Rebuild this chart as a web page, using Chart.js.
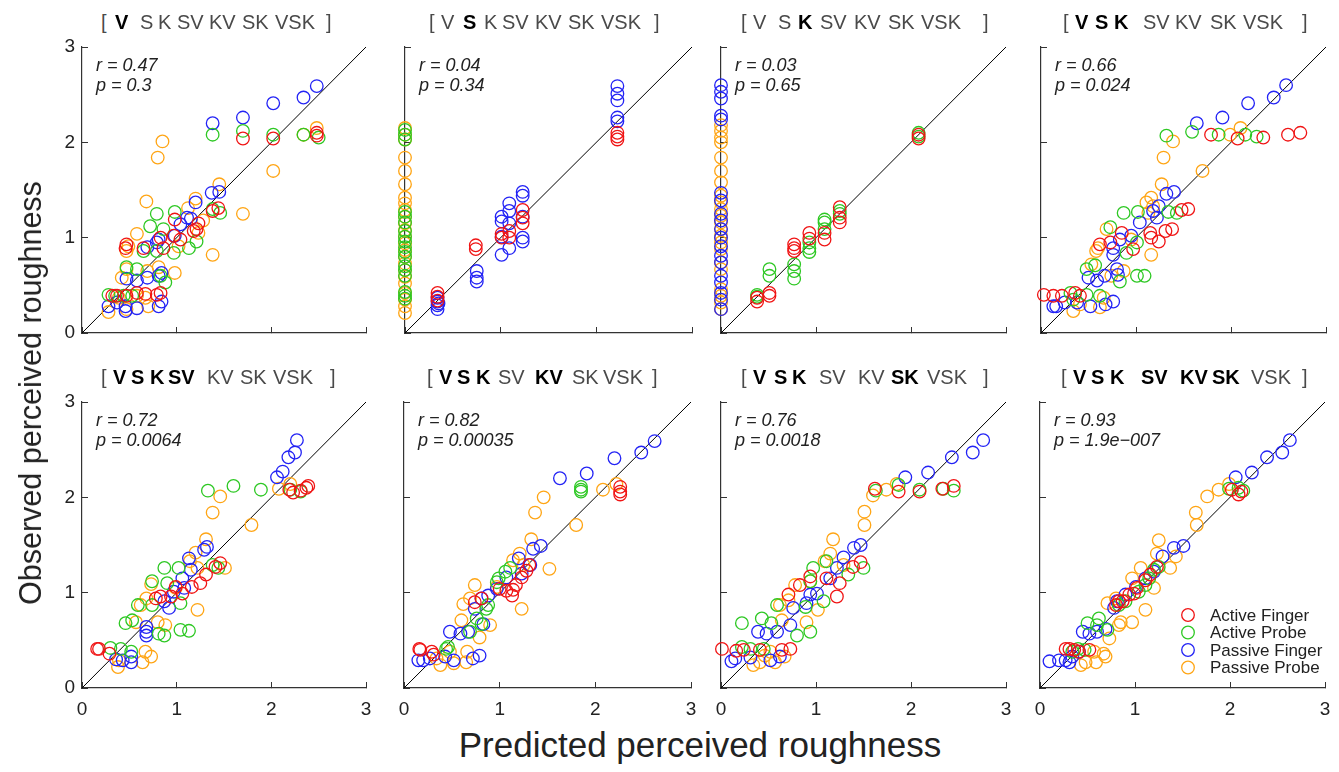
<!DOCTYPE html>
<html>
<head>
<meta charset="utf-8">
<script src="https://cdn.jsdelivr.net/npm/chart.js@4/dist/chart.umd.min.js"></script>
<style>
  body { margin: 0; background: #fff; }
  #fig { position: relative; width: 1339px; height: 772px; overflow: hidden;
         font-family: "Liberation Sans", Arial, sans-serif; color: #222; }
  .panel { position: absolute; }
  .tok { position: absolute; font-size: 20px; line-height: 20px; color: #4a4a4a; white-space: pre; }
  .tok.b { font-weight: bold; color: #000; }
  .stat { position: absolute; font-size: 18px; line-height: 20px; font-style: italic; color: #222; white-space: pre; }
  .axt { position: absolute; font-size: 30px; line-height: 30px; color: #222; white-space: nowrap; }
</style>
</head>
<body>
<div id="fig"></div>
<script>
const seriesLabels = ['Active Finger', 'Active Probe', 'Passive Finger', 'Passive Probe'];
const seriesColors = ['rgb(240,20,20)', 'rgb(45,200,35)', 'rgb(35,35,245)', 'rgb(255,165,20)'];
const tickValues = [0, 1, 2, 3];
const unityLine = [0, 3];

const rValues = ['0.47', '0.04', '0.03', '0.66', '0.72', '0.82', '0.76', '0.93'];
const pValues = ['0.3', '0.34', '0.65', '0.024', '0.0064', '0.00035', '0.0018', '1.9e\u2212007'];

// which model terms are in bold in each panel title
const titleTerms = ['V', 'S', 'K', 'SV', 'KV', 'SK', 'VSK'];
const boldTerms = [
  ['V'], ['S'], ['K'], ['V', 'S', 'K'],
  ['V', 'S', 'K', 'SV'], ['V', 'S', 'K', 'KV'], ['V', 'S', 'K', 'SK'], ['V', 'S', 'K', 'SV', 'KV', 'SK']
];

// [predicted, observed]
const p1_af = [[2.48,2.10],[2.48,2.07],[2.02,2.04],[1.70,2.04],[1.44,1.31],[1.38,1.28],[1.23,1.15],[1.21,1.09],[1.18,1.07],[0.98,1.19],[0.97,1.02],[1.04,0.98],[0.83,1.00],[0.86,0.89],[0.65,0.89],[0.47,0.93],[0.46,0.89],[0.83,0.42],[0.79,0.40],[0.67,0.41],[0.58,0.42],[0.47,0.39],[0.37,0.39],[0.32,0.39]];
const p1_ap = [[1.38,2.08],[1.70,2.12],[2.02,2.08],[2.34,2.08],[2.50,2.05],[1.46,1.26],[1.38,1.30],[1.21,0.96],[1.13,0.89],[0.98,1.27],[0.97,0.84],[0.79,1.25],[0.72,1.12],[0.86,1.09],[0.79,0.86],[0.65,0.86],[0.47,0.69],[0.58,0.67],[0.83,0.60],[0.88,0.53],[0.28,0.40],[0.35,0.39],[0.44,0.39],[0.53,0.39]];
const p1_pf = [[2.48,2.59],[2.34,2.47],[2.02,2.41],[1.70,2.26],[1.38,2.20],[1.45,1.48],[1.37,1.47],[1.20,1.37],[1.15,1.20],[1.11,1.21],[1.04,1.14],[0.98,1.02],[0.81,0.98],[0.69,0.90],[0.79,0.95],[0.84,0.63],[0.81,0.60],[0.47,0.57],[0.58,0.55],[0.69,0.58],[0.28,0.28],[0.46,0.28],[0.58,0.26],[0.81,0.28],[0.84,0.33],[0.46,0.23],[0.37,0.32]];
const p1_pp = [[0.85,2.01],[0.80,1.84],[0.68,1.38],[2.02,1.70],[2.34,2.08],[2.48,2.15],[1.70,1.25],[1.45,1.56],[1.20,1.41],[1.12,1.31],[1.28,1.18],[1.23,1.05],[1.38,0.82],[0.98,0.63],[1.02,0.91],[0.58,1.04],[0.49,0.91],[0.47,0.86],[0.42,0.58],[0.47,0.67],[0.81,0.69],[0.69,0.65],[0.28,0.22],[0.47,0.25],[0.70,0.28],[0.58,0.39],[0.39,0.37],[0.67,0.37]];

const p2_af = [[2.22,2.10],[2.22,2.06],[2.22,2.03],[1.23,1.29],[1.23,1.21],[1.23,1.15],[1.09,1.07],[1.09,1.00],[1.01,1.04],[1.01,1.00],[0.74,0.92],[0.74,0.88],[0.34,0.42],[0.34,0.38],[0.34,0.34]];
const p2_ap = [[0,2.13],[0,2.08],[0,2.03],[0,1.27],[0,1.22],[0,1.16],[0,1.07],[0,1.01],[0,0.96],[0,0.90],[0,0.85],[0,0.80],[0,0.70],[0,0.66],[0,0.60],[0,0.43],[0,0.39],[0,0.36]];
const p2_pf = [[2.22,2.59],[2.22,2.51],[2.22,2.44],[2.22,2.26],[2.22,2.22],[1.23,1.48],[1.23,1.44],[1.09,1.36],[1.09,1.28],[1.01,1.22],[1.01,1.17],[1.09,1.15],[1.23,1.22],[1.23,1.00],[1.23,0.96],[1.01,1.01],[1.09,0.89],[1.01,0.82],[0.75,0.65],[0.75,0.58],[0.75,0.54],[0.34,0.33],[0.34,0.29],[0.34,0.25],[0.34,0.37],[0.35,0.31]];
const p2_pp = [[0,2.15],[0,2.08],[0,2.03],[0,1.84],[0,1.70],[0,1.56],[0,1.42],[0,1.36],[0,1.29],[0,1.22],[0,1.15],[0,1.08],[0,1.01],[0,0.94],[0,0.87],[0,0.80],[0,0.73],[0,0.66],[0,0.59],[0,0.52],[0,0.42],[0,0.35],[0,0.28],[0,0.21]];

const p3_af = [[2.08,2.08],[2.08,2.04],[1.25,1.32],[1.25,1.21],[1.25,1.16],[1.09,1.05],[1.09,0.98],[0.93,1.05],[0.93,0.99],[0.77,0.93],[0.77,0.89],[0.77,0.86],[0.51,0.42],[0.51,0.39],[0.38,0.37],[0.38,0.33]];
const p3_ap = [[2.08,2.10],[2.08,2.06],[1.25,1.28],[1.25,1.25],[1.09,1.19],[1.09,1.16],[1.09,1.09],[0.93,0.95],[0.93,0.89],[0.93,0.85],[0.77,0.72],[0.77,0.65],[0.77,0.57],[0.51,0.67],[0.51,0.60],[0.38,0.40],[0.38,0.38]];
const p3_pf = [[0,2.60],[0,2.53],[0,2.46],[0,2.28],[0,2.24],[0,1.47],[0,1.39],[0,1.25],[0,1.18],[0,1.09],[0,1.00],[0,0.91],[0,0.81],[0,0.74],[0,0.60],[0,0.53],[0,0.42],[0,0.35],[0,0.25]];
const p3_pp = [[0,2.18],[0,2.12],[0,2.05],[0,2.00],[0,1.84],[0,1.70],[0,1.58],[0,1.44],[0,1.37],[0,1.30],[0,1.23],[0,1.16],[0,1.09],[0,1.02],[0,0.95],[0,0.88],[0,0.74],[0,0.67],[0,0.46],[0,0.39],[0,0.32],[0,0.25]];

const p4_af = [[2.73,2.10],[2.60,2.08],[2.34,2.05],[2.07,2.04],[1.79,2.08],[1.55,1.30],[1.48,1.29],[1.38,1.09],[1.31,1.07],[1.24,0.96],[1.16,1.00],[1.15,1.05],[0.97,0.88],[0.85,1.05],[0.73,0.95],[0.62,0.93],[0.03,0.40],[0.13,0.39],[0.22,0.39],[0.36,0.42],[0.41,0.39]];
const p4_ap = [[1.32,2.07],[1.59,2.11],[1.87,2.08],[2.15,2.08],[2.27,2.06],[1.43,1.26],[1.34,1.27],[1.02,1.27],[0.87,1.26],[0.73,1.11],[1.01,0.95],[0.90,0.84],[0.57,0.71],[0.48,0.67],[1.01,0.60],[1.09,0.60],[0.83,0.54],[0.31,0.42],[0.48,0.40],[0.62,0.39],[0.34,0.35]];
const p4_pf = [[2.58,2.60],[2.45,2.47],[2.18,2.41],[1.91,2.26],[1.64,2.20],[1.40,1.48],[1.32,1.46],[1.24,1.33],[1.18,1.28],[1.22,1.21],[1.04,1.16],[0.95,1.02],[0.83,0.98],[0.76,0.89],[0.76,0.82],[0.80,0.67],[0.81,0.61],[0.59,0.55],[0.50,0.58],[0.67,0.60],[0.76,0.33],[0.68,0.30],[0.52,0.28],[0.16,0.28],[0.13,0.28],[0.25,0.32],[0.38,0.32]];
const p4_pp = [[1.39,2.01],[1.29,1.84],[1.70,1.70],[1.99,2.08],[2.10,2.15],[1.27,1.56],[1.16,1.42],[1.11,1.37],[1.18,1.33],[1.13,1.26],[1.16,0.82],[0.95,0.98],[0.69,1.09],[0.60,0.89],[0.58,0.86],[0.87,0.65],[0.53,0.72],[0.62,0.27],[0.34,0.23],[0.41,0.30],[0.66,0.37],[0.74,0.60]];

const p5_af = [[2.39,2.12],[2.37,2.10],[2.31,2.07],[2.23,2.05],[2.19,2.08],[1.46,1.31],[1.41,1.27],[1.31,1.19],[1.25,1.10],[1.16,1.06],[1.06,0.99],[0.99,1.06],[0.94,0.96],[0.83,0.96],[0.78,0.94],[0.16,0.41],[0.18,0.41],[0.29,0.36]];
const p5_ap = [[1.33,2.07],[1.60,2.12],[1.89,2.08],[2.20,2.08],[2.31,2.06],[1.44,1.26],[1.38,1.29],[1.02,1.26],[0.87,1.26],[0.74,1.12],[0.90,1.10],[1.04,0.89],[0.59,0.87],[0.74,0.87],[0.53,0.71],[0.46,0.68],[1.04,0.61],[1.13,0.60],[0.87,0.55],[0.81,0.57],[0.30,0.42],[0.41,0.41],[0.52,0.38]];
const p5_pf = [[2.27,2.60],[2.25,2.47],[2.18,2.42],[2.12,2.27],[2.06,2.21],[1.32,1.48],[1.29,1.45],[1.13,1.36],[1.15,1.24],[1.06,1.15],[1.08,1.05],[0.97,1.01],[0.92,0.84],[0.87,0.91],[0.68,0.64],[0.68,0.59],[0.68,0.55],[0.52,0.33],[0.52,0.27],[0.36,0.30],[0.43,0.29]];
const p5_pp = [[1.46,2.01],[1.38,1.84],[1.79,1.71],[2.08,2.09],[2.20,2.14],[1.31,1.56],[1.20,1.42],[1.14,1.33],[1.22,1.26],[1.51,1.26],[1.22,0.82],[0.99,1.05],[0.73,1.09],[0.62,0.87],[0.68,0.94],[0.88,0.66],[0.57,0.69],[0.80,0.69],[0.38,0.22],[0.64,0.27],[0.73,0.33],[0.67,0.38],[0.39,0.29]];

const p6_af = [[2.26,2.11],[2.26,2.06],[2.26,2.03],[1.31,1.29],[1.28,1.23],[1.23,1.16],[1.17,1.08],[1.14,1.03],[1.13,0.97],[1.07,1.02],[1.00,1.04],[0.81,0.94],[0.74,0.90],[0.16,0.41],[0.17,0.40],[0.29,0.38],[0.31,0.35]];
const p6_ap = [[1.85,2.11],[1.85,2.08],[1.85,2.06],[1.11,1.26],[1.06,1.22],[0.99,1.15],[0.97,1.11],[0.88,0.87],[0.86,0.83],[0.76,0.73],[0.81,0.67],[0.69,0.59],[0.46,0.43],[0.44,0.41]];
const p6_pf = [[2.62,2.59],[2.48,2.47],[2.20,2.41],[1.91,2.25],[1.63,2.20],[1.43,1.49],[1.35,1.46],[1.20,1.36],[1.32,1.29],[1.23,1.20],[1.07,1.16],[0.97,1.04],[0.88,0.97],[0.81,0.94],[0.74,0.83],[0.83,0.67],[0.67,0.59],[0.48,0.59],[0.59,0.57],[0.79,0.34],[0.72,0.31],[0.52,0.29],[0.15,0.29],[0.20,0.29],[0.27,0.31],[0.43,0.33]];
const p6_pp = [[1.46,2.00],[1.37,1.84],[1.80,1.71],[2.08,2.08],[2.22,2.14],[1.33,1.56],[1.21,1.41],[1.14,1.34],[1.25,1.29],[1.52,1.25],[1.23,0.83],[0.97,1.06],[0.74,1.08],[0.69,0.94],[0.62,0.88],[0.90,0.66],[0.60,0.71],[0.79,0.53],[0.38,0.24],[0.65,0.27],[0.66,0.38],[0.48,0.38],[0.34,0.31],[0.52,0.26]];

const p7_af = [[2.45,2.12],[2.33,2.09],[2.09,2.06],[1.87,2.06],[1.62,2.09],[1.47,1.32],[1.39,1.27],[1.25,1.10],[1.22,0.96],[1.11,1.15],[0.94,1.17],[0.83,1.08],[0.71,0.98],[0.73,0.41],[0.64,0.40],[0.41,0.40],[0.24,0.40],[0.16,0.39],[0.01,0.41]];
const p7_ap = [[1.63,2.07],[1.87,2.13],[2.09,2.08],[2.34,2.09],[2.45,2.07],[1.50,1.26],[1.34,1.19],[1.11,1.33],[0.97,1.26],[0.94,1.12],[1.08,0.91],[0.89,0.85],[0.59,0.87],[0.43,0.73],[0.22,0.68],[0.53,0.68],[0.94,0.59],[0.80,0.55],[0.22,0.43],[0.31,0.41],[0.45,0.41]];
const p7_pf = [[2.76,2.60],[2.65,2.47],[2.43,2.42],[2.18,2.26],[1.94,2.21],[1.47,1.50],[1.40,1.47],[1.29,1.37],[1.22,1.26],[1.15,1.15],[1.01,0.99],[0.94,0.98],[0.90,0.89],[0.76,0.84],[0.73,0.66],[0.59,0.59],[0.39,0.59],[0.48,0.57],[0.62,0.33],[0.52,0.29],[0.31,0.32],[0.11,0.28],[0.15,0.31]];
const p7_pp = [[1.60,2.02],[1.51,1.85],[1.51,1.71],[1.74,2.08],[1.85,2.14],[1.18,1.56],[1.15,1.41],[1.09,1.33],[1.29,1.29],[0.94,1.12],[1.02,0.82],[0.78,1.08],[0.71,0.92],[0.62,0.87],[0.90,0.69],[0.64,0.71],[0.41,0.27],[0.57,0.27],[0.67,0.33],[0.52,0.38],[0.34,0.24],[0.46,0.34]];

const p8_af = [[2.09,2.03],[2.12,2.06],[2.02,2.08],[1.23,1.27],[1.16,1.19],[1.11,1.13],[1.02,1.05],[0.99,0.99],[0.94,0.98],[0.87,0.91],[0.83,0.91],[0.80,0.87],[0.27,0.41],[0.31,0.41],[0.36,0.40],[0.41,0.38],[0.52,0.40]];
const p8_ap = [[2.14,2.07],[2.09,2.10],[1.99,2.09],[1.25,1.27],[1.20,1.24],[1.15,1.15],[1.11,1.08],[1.04,1.01],[0.90,0.91],[0.83,0.87],[0.71,0.61],[0.62,0.73],[0.50,0.68],[0.60,0.66],[0.40,0.41],[0.34,0.38],[0.47,0.40]];
const p8_pf = [[2.63,2.60],[2.55,2.47],[2.39,2.42],[2.23,2.26],[2.06,2.21],[1.51,1.49],[1.41,1.47],[1.29,1.38],[1.20,1.22],[1.11,1.15],[1.01,1.06],[0.90,0.98],[0.81,0.91],[0.78,0.84],[0.69,0.62],[0.60,0.59],[0.52,0.57],[0.45,0.59],[0.41,0.38],[0.34,0.33],[0.27,0.29],[0.10,0.28],[0.20,0.29],[0.31,0.27]];
const p8_pp = [[1.64,1.84],[1.65,1.71],[1.76,2.01],[1.88,2.08],[1.99,2.14],[1.25,1.55],[1.43,1.38],[1.23,1.41],[1.06,1.26],[1.37,1.26],[1.20,1.05],[1.11,0.82],[0.97,1.15],[0.80,0.94],[0.71,0.89],[0.97,0.69],[0.85,0.69],[0.83,0.66],[0.73,0.52],[0.67,0.36],[0.69,0.33],[0.59,0.27],[0.43,0.24],[0.48,0.27],[0.57,0.38]];

const panelSeries = [
  [p1_af, p1_ap, p1_pf, p1_pp], [p2_af, p2_ap, p2_pf, p2_pp],
  [p3_af, p3_ap, p3_pf, p3_pp], [p4_af, p4_ap, p4_pf, p4_pp],
  [p5_af, p5_ap, p5_pf, p5_pp], [p6_af, p6_ap, p6_pf, p6_pp],
  [p7_af, p7_ap, p7_pf, p7_pp], [p8_af, p8_ap, p8_pf, p8_pp]
];

// ---- layout (plot boxes in page pixels) ----
const boxes = [
  {l: 82, t: 47, r: 366, b: 333}, {l: 405, t: 47, r: 692, b: 333},
  {l: 721, t: 47, r: 1006, b: 333}, {l: 1041, t: 47, r: 1326, b: 333},
  {l: 82, t: 402, r: 366, b: 688}, {l: 404, t: 402, r: 691, b: 688},
  {l: 721, t: 402, r: 1006, b: 688}, {l: 1040, t: 402, r: 1325, b: 688}
];
// x position of each title token: '[', seven terms, ']'
const titleX = [
  [101, 115, 140, 158, 177, 209, 242, 275, 326],
  [429, 441, 463, 484, 502, 535, 568, 601, 654],
  [741, 753, 778, 798, 820, 854, 888, 921, 983],
  [1063, 1075, 1095, 1114, 1143, 1175, 1210, 1243, 1302],
  [101, 113, 131, 150, 168, 207, 240, 273, 330],
  [427, 439, 457, 476, 498, 535, 572, 603, 652],
  [741, 753, 774, 792, 819, 858, 891, 927, 983],
  [1061, 1073, 1091, 1110, 1141, 1180, 1212, 1251, 1302]
];
const AX_W = 40, AX_H = 34, PAD_T = 12, PAD_R = 14;
const FONT = '"Liberation Sans", Arial, sans-serif';
const fig = document.getElementById('fig');

function addText(cls, txt, left, top) {
  const d = document.createElement('div');
  d.className = cls;
  d.textContent = txt;
  d.style.left = left + 'px';
  d.style.top = top + 'px';
  fig.appendChild(d);
  return d;
}

const insideLegend = {
  id: 'insideLegend',
  afterDatasetsDraw(chart) {
    const {ctx, chartArea} = chart;
    ctx.save();
    ctx.font = '17px ' + FONT;
    ctx.textBaseline = 'middle';
    ctx.lineWidth = 1.3;
    seriesLabels.forEach((lab, i) => {
      const y = chartArea.bottom - 73 + i * 17.5;
      ctx.strokeStyle = seriesColors[i];
      ctx.beginPath();
      ctx.arc(chartArea.right - 137, y, 6.3, 0, Math.PI * 2);
      ctx.stroke();
      ctx.fillStyle = '#222';
      ctx.fillText(lab, chartArea.right - 115, y + 1);
    });
    ctx.restore();
  }
};

boxes.forEach((b, i) => {
  const w = b.r - b.l, h = b.b - b.t;
  const wrap = document.createElement('div');
  wrap.className = 'panel';
  wrap.style.left = (b.l - AX_W) + 'px';
  wrap.style.top = (b.t - PAD_T) + 'px';
  const cv = document.createElement('canvas');
  cv.width = w + AX_W + PAD_R;
  cv.height = h + PAD_T + AX_H;
  wrap.appendChild(cv);
  fig.appendChild(wrap);

  const showY = i % 4 === 0, showX = i >= 4;
  const datasets = panelSeries[i].map((pts, k) => ({
    type: 'scatter',
    label: seriesLabels[k],
    data: pts.map(([x, y]) => ({x, y})),
    borderColor: seriesColors[k],
    backgroundColor: 'rgba(0,0,0,0)',
    pointRadius: 6.3,
    pointHoverRadius: 6.3,
    pointBorderWidth: 1.3,
    clip: false
  }));
  datasets.push({
    type: 'line',
    label: '',
    data: unityLine.map(v => ({x: v, y: v})),
    borderColor: '#000',
    borderWidth: 1,
    pointRadius: 0,
    clip: false
  });

  const axis = (show, isX) => ({
    type: 'linear', min: tickValues[0], max: tickValues[tickValues.length - 1],
    ticks: {display: show, stepSize: 1, padding: isX ? 16 : 13, color: '#222', font: {size: 19, family: FONT}},
    grid: {drawOnChartArea: false, tickLength: -6, color: '#333', lineWidth: 1},
    border: {color: '#333', width: 1.2},
    afterFit: s => {
      if (isX) s.height = AX_H; else s.width = AX_W;
      // keep tick labels from shrinking the plot box
      s.paddingTop = s.paddingBottom = s.paddingLeft = s.paddingRight = 0;
    }
  });

  new Chart(cv, {
    type: 'scatter',
    data: {datasets},
    options: {
      responsive: false,
      animation: false,
      devicePixelRatio: 1,
      layout: {autoPadding: false, padding: {top: PAD_T, right: PAD_R, left: 0, bottom: 0}},
      scales: {x: axis(showX, true), y: axis(showY, false)},
      plugins: {legend: {display: false}, tooltip: {enabled: false}}
    },
    plugins: i === 7 ? [insideLegend] : []
  });

  // title: [ V S K SV KV SK VSK ]
  const tops = b.t - 35;
  addText('tok', '[', titleX[i][0], tops);
  titleTerms.forEach((t, k) => {
    const d = addText('tok', t, titleX[i][k + 1], tops);
    if (boldTerms[i].includes(t)) d.classList.add('b');
  });
  addText('tok', ']', titleX[i][8], tops);

  addText('stat', 'r = ' + rValues[i], b.l + 14, b.t + 8);
  addText('stat', 'p = ' + pValues[i], b.l + 14, b.t + 28);
});

const yt = addText('axt', 'Observed perceived roughness', 30, 393);
yt.style.transform = 'translate(-50%, -50%) rotate(-90deg)';
yt.style.fontSize = '30.5px';
const xt = addText('axt', 'Predicted perceived roughness', 700, 745);
xt.style.transform = 'translate(-50%, -50%)';
xt.style.fontSize = '35px';
</script>
</body>
</html>
